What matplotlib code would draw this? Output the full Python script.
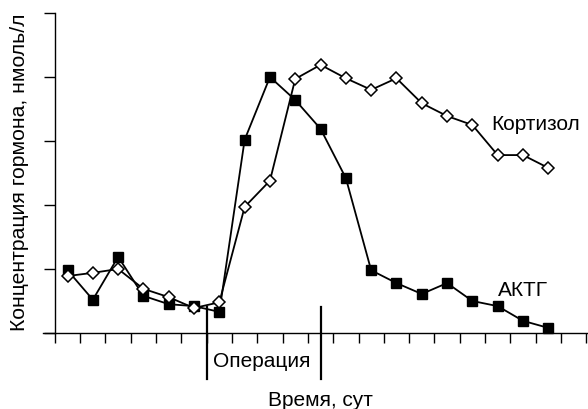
import numpy as np
import matplotlib.pyplot as plt

plt.rcParams['font.family'] = ['Liberation Sans', 'DejaVu Sans']

# days (points sit between day ticks)
days = np.arange(20) + 0.5
acth = [0.98, 0.52, 1.19, 0.58, 0.45, 0.42, 0.33, 3.02, 4.00, 3.64,
        3.19, 2.42, 0.98, 0.78, 0.61, 0.78, 0.50, 0.42, 0.19, 0.08]
cortisol = [0.89, 0.94, 1.00, 0.69, 0.56, 0.39, 0.48, 1.97, 2.38, 3.97,
            4.19, 3.98, 3.80, 3.98, 3.59, 3.39, 3.25, 2.78, 2.78, 2.58]
op_start, op_end = 6.0, 10.5

fig = plt.figure(figsize=(5.88, 4.09), dpi=100)
ax = fig.add_axes([43/588, 76/409, 545/588, 320/409])

ax.plot(days, acth, '-s', color='k', lw=1.3, ms=7.3, mfc='k', mec='k',
        clip_on=False, zorder=3)
ax.plot(days, cortisol, '-D', color='k', lw=1.3, ms=6.6, mfc='white',
        mec='k', mew=1.1, clip_on=False, zorder=4)

# operation markers
for xo in (op_start, op_end):
    ax.plot([xo, xo], [0.40, -0.72], color='k', lw=1.6, clip_on=False,
            zorder=2)
ax.text((op_start + op_end) / 2 - 0.08, -0.45, 'Операция', ha='center',
        va='center', fontsize=15)

ax.text(17.25, 3.25, 'Кортизол', ha='left', va='center', fontsize=15)
ax.text(17.5, 0.67, 'АКТГ', ha='left', va='center', fontsize=15)

ax.set_xlim(-0.47, 21.07)
ax.set_ylim(0, 5)
ax.set_xticks(np.arange(22))
ax.set_yticks(np.arange(6))
ax.set_xticklabels([])
ax.set_yticklabels([])
ax.tick_params(axis='x', direction='out', length=7.5, width=1.0)
ax.tick_params(axis='y', direction='out', length=8, width=1.0)

ax.spines['top'].set_visible(False)
ax.spines['right'].set_visible(False)
ax.spines['left'].set_position(('data', 0))
ax.spines['left'].set_linewidth(1.0)
ax.spines['bottom'].set_linewidth(1.0)

fig.text(20/588, 1 - 172/409, 'Концентрация гормона, нмоль/л',
         rotation=90, ha='center', va='center', fontsize=15.2)
fig.text(320/588, 1 - 401/409, 'Время, сут', ha='center', va='center',
         fontsize=15)

fig.savefig('out.png', dpi=100)
